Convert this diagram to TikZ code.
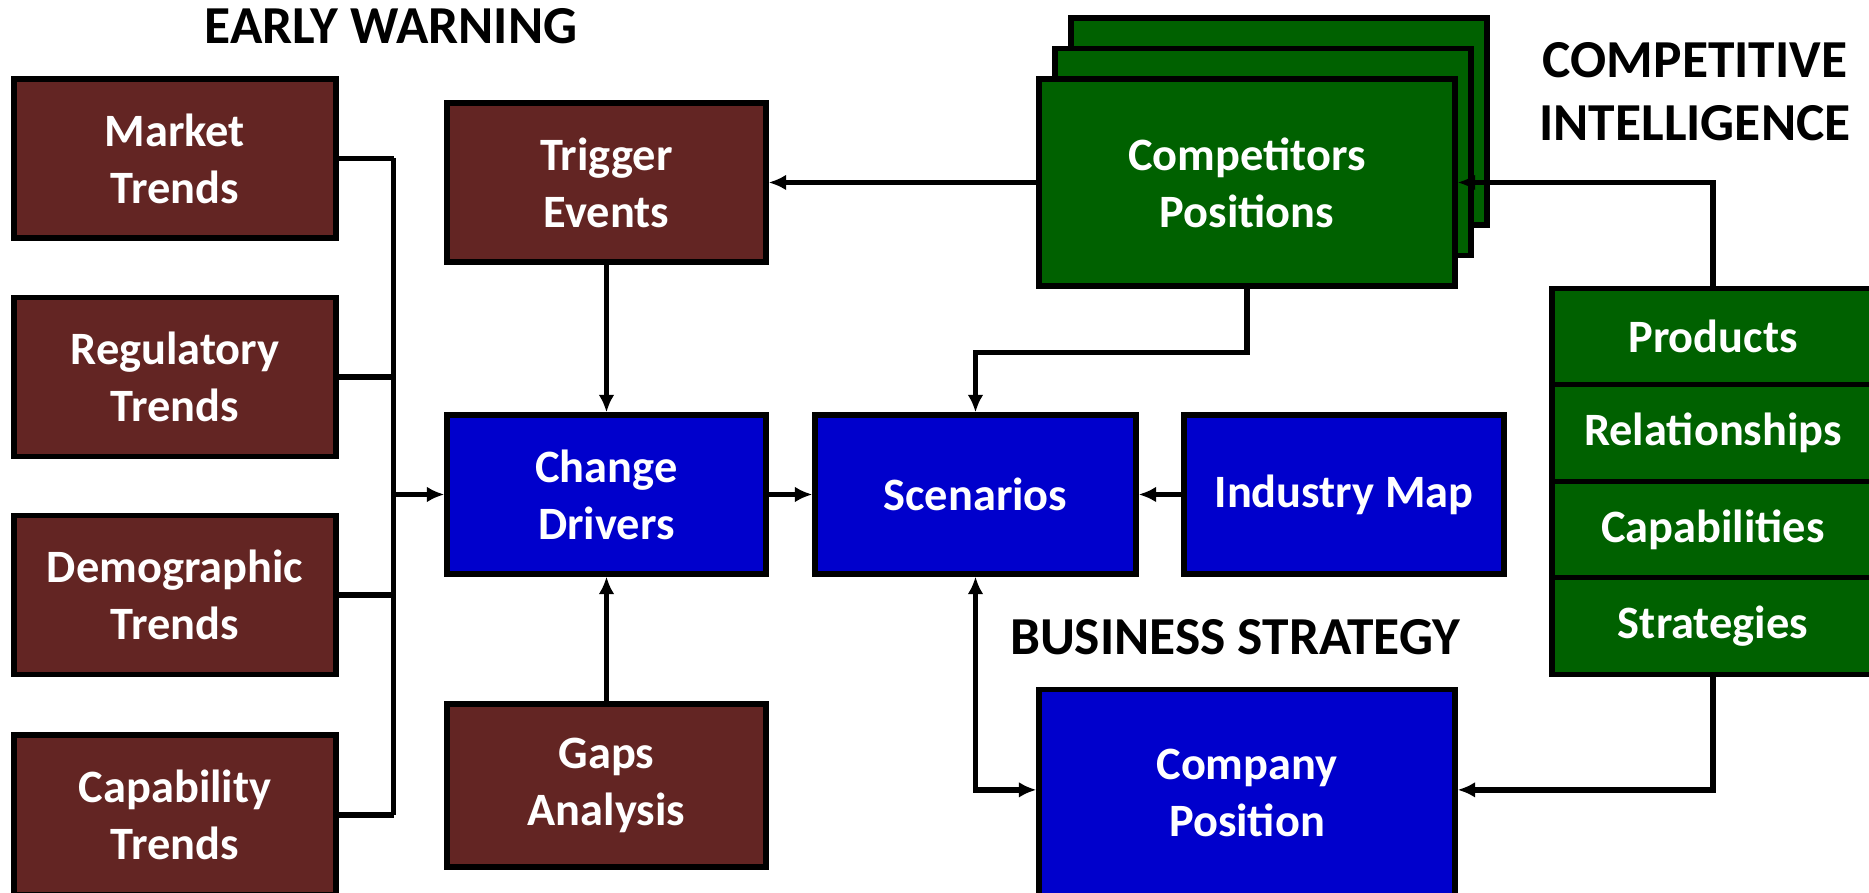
\documentclass[tikz,border=0pt]{standalone}
\usepackage{fontspec}
\setmainfont{Carlito}
\usetikzlibrary{arrows.meta,positioning}
\definecolor{warning}{HTML}{632523}
\definecolor{strategy}{HTML}{0000CC}
\definecolor{intel}{HTML}{006100}

\begin{document}
\begin{tikzpicture}[
  box/.style={draw=black,line width=1.5pt,minimum width=3.2cm,minimum height=1.6cm,
    align=center,text=white,inner sep=2pt,font=\fontsize{13.2}{16.2}\selectfont\bfseries},
  ewbox/.style={box,fill=warning},
  bsbox/.style={box,fill=strategy},
  cibox/.style={box,fill=intel},
  bigbox/.style={minimum width=4.16cm,minimum height=2.07cm},
  rowbox/.style={cibox,minimum width=3.22cm,minimum height=0.965cm},
  title/.style={font=\fontsize{15.2}{18}\selectfont\bfseries,align=center},
  link/.style={line width=1.5pt},
  arr/.style={link,-{Latex[length=5pt,width=4.5pt]}}
]
  \useasboundingbox (0,0) rectangle (18.69,8.93);

  % Early warning column
  \node[title] (ewtitle) at (3.91,8.67) {EARLY WARNING};
  \node[ewbox,minimum width=3.22cm,minimum height=1.59cm] (market) at (1.75,7.345) {Market\\Trends};
  \node[ewbox,minimum width=3.22cm,minimum height=1.59cm] (regulatory) at (1.75,5.16) {Regulatory\\Trends};
  \node[ewbox,minimum width=3.22cm,minimum height=1.59cm] (demographic) at (1.75,2.98) {Demographic\\Trends};
  \node[ewbox,minimum width=3.22cm,minimum height=1.6cm] (capability) at (1.75,0.78) {Capability\\Trends};

  \node[ewbox,minimum width=3.19cm,minimum height=1.59cm] (trigger) at (6.065,7.105) {Trigger\\Events};
  \node[bsbox,minimum width=3.19cm,minimum height=1.59cm] (change) at (6.065,3.985) {Change\\Drivers};
  \node[ewbox,minimum width=3.19cm,minimum height=1.63cm] (gaps) at (6.065,1.075) {Gaps\\Analysis};

  % Business strategy
  \node[bsbox,minimum width=3.21cm,minimum height=1.59cm] (scenarios) at (9.755,3.985) {Scenarios};
  \node[bsbox,minimum width=3.2cm,minimum height=1.59cm] (industry) at (13.44,3.985) {Industry Map};
  \node[title] (bstitle) at (12.35,2.56) {BUSINESS STRATEGY};
  \node[bsbox,bigbox] (company) at (12.47,1.0) {Company\\Position};

  % Competitive intelligence, stacked sheets
  \node[cibox,bigbox] (compC) at (12.79,7.715) {};
  \node[cibox,bigbox] (compB) at (12.63,7.41) {};
  \node[cibox,bigbox] (competitors) at (12.47,7.105) {Competitors\\Positions};
  \node[title] (cititle) at (16.95,8.015) {COMPETITIVE\\INTELLIGENCE};

  \node[rowbox] (products) at (17.13,5.565) {Products};
  \node[rowbox] (relations) at (17.13,4.60) {Relationships};
  \node[rowbox] (capabilities) at (17.13,3.635) {Capabilities};
  \node[rowbox] (strategies) at (17.13,2.67) {Strategies};

  % Trend bus into change drivers
  \draw[link] (market.east) -- ++(0.55,0) coordinate (bustop);
  \draw[link] (capability.east) -- ++(0.55,0) coordinate (busbot);
  \draw[link] (bustop) -- (busbot);
  \draw[link] (regulatory.east) -- (regulatory.east -| bustop);
  \draw[link] (demographic.east) -- (demographic.east -| bustop);
  \draw[arr] (change.west -| bustop) -- (change.west);

  \draw[arr] (trigger) -- (change);
  \draw[arr] (gaps) -- (change);
  \draw[arr] (change) -- (scenarios);
  \draw[arr] (industry) -- (scenarios);
  \draw[arr] (competitors) -- (trigger);
  \draw[arr] (competitors.south) -- ++(0,-0.64) -| (scenarios.north);
  \draw[arr] (products.north) |- (competitors.east);
  \draw[arr] (strategies.south) -- ++(0,-1.13) coordinate (cpturn) -- (cpturn -| company.east);
  \draw[link,{Latex[length=5pt,width=4.5pt]}-{Latex[length=5pt,width=4.5pt]}] (scenarios.south) |- (cpturn -| company.west);
\end{tikzpicture}
\end{document}
